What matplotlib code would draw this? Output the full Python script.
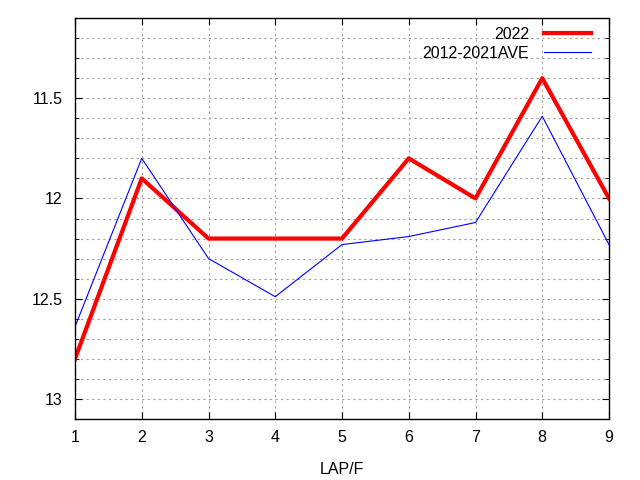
import matplotlib
matplotlib.use("Agg")
import matplotlib.pyplot as plt
from matplotlib.ticker import MultipleLocator, FormatStrFormatter

laps = [1, 2, 3, 4, 5, 6, 7, 8, 9]
y2022 = [12.8, 11.9, 12.2, 12.2, 12.2, 11.8, 12.0, 11.4, 12.0]
yave = [12.64, 11.8, 12.3, 12.49, 12.23, 12.19, 12.12, 11.59, 12.23]

plt.rcParams['font.family'] = ['Liberation Sans', 'DejaVu Sans']

fig = plt.figure(figsize=(6.4, 4.8), dpi=100)
ax = fig.add_axes([75/640, 1-419/480, (609-75)/640, (419-18)/480])

ax.plot(laps, y2022, color='#ff0000', lw=3, label='2022')
ax.plot(laps, yave, color='#0000ff', lw=0.8, label='2012-2021AVE')

ax.set_xlim(1, 9)
ax.set_ylim(13.1, 11.1)
ax.set_xticks(laps)
ax.yaxis.set_major_locator(MultipleLocator(0.5))
ax.yaxis.set_minor_locator(MultipleLocator(0.1))
ax.yaxis.set_major_formatter(FormatStrFormatter('%g'))
ax.tick_params(which='both', direction='in', top=True, right=True, labelsize=11.5)
ax.tick_params(which='major', length=5)
ax.tick_params(axis='x', which='major', pad=8)
ax.tick_params(axis='y', which='major', pad=9)
ax.tick_params(which='minor', length=3)
ax.grid(True, which='both', color='#a0a0a0', ls=(0, (2, 3)), lw=0.8)
ax.set_axisbelow(True)
for s in ax.spines.values():
    s.set_linewidth(1)
ax.set_xlabel('LAP/F', fontsize=11.5, labelpad=12)

leg = ax.legend(loc='upper right', bbox_to_anchor=(1.0, 1.0224), frameon=False,
                markerfirst=False, fontsize=11.5,
                handlelength=3.0, handletextpad=0.9, borderaxespad=0.9,
                labelspacing=0.25, borderpad=0.2)

fig.savefig('out.png', dpi=100)
